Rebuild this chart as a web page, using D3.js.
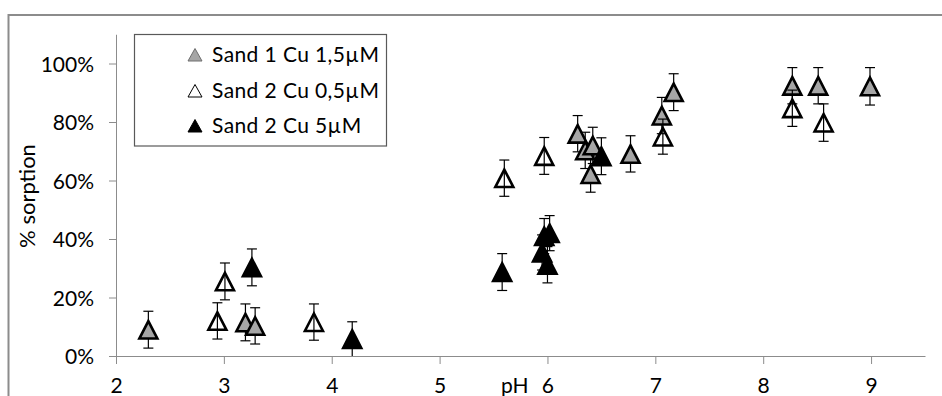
<!DOCTYPE html>
<html>
<head>
<meta charset="UTF-8">
<title>% sorption vs pH</title>
<style>
  body { margin: 0; background: #fff; }
  text { font-family: Lato, "Open Sans", sans-serif; fill: #000; }
</style>
</head>
<body>
<svg width="942" height="396"></svg>
<script src="https://cdn.jsdelivr.net/npm/d3@7/dist/d3.min.js"></script>
<script>
// series names (legend)
var seriesNames = ["Sand 1 Cu 1,5\u00b5M", "Sand 2 Cu 0,5\u00b5M", "Sand 2 Cu 5\u00b5M"];

// Sand 1 Cu 1,5µM  (grey triangles)
var s1pH   = [2.30, 3.20, 3.29, 6.28, 6.35, 6.42, 6.40, 6.77, 7.06, 7.17, 8.27, 8.51, 8.99];
var s1Sorp = [9.0, 11.5, 10.3, 76.0, 70.3, 72.0, 62.2, 69.1, 82.2, 90.2, 92.4, 92.4, 92.2];
var s1Err  = [6.3, 6.3, 6.2, 6.2, 6.2, 6.2, 6.2, 6.2, 6.2, 6.3, 6.2, 6.2, 6.4];

// Sand 2 Cu 0,5µM  (open triangles)
var s2pH   = [2.94, 3.01, 3.835, 5.60, 5.97, 7.07, 8.27, 8.56];
var s2Sorp = [12.0, 25.5, 11.6, 60.8, 68.4, 75.0, 84.7, 79.8];
var s2Err  = [6.2, 6.3, 6.2, 6.2, 6.3, 6.0, 6.2, 6.4];

// Sand 2 Cu 5µM  (black triangles)
var s3pH   = [3.26, 4.19, 5.58, 5.95, 5.97, 6.02, 6.00, 6.50];
var s3Sorp = [30.3, 5.8, 28.7, 35.4, 41.0, 42.0, 31.2, 68.3];
var s3Err  = [6.3, 5.9, 6.3, 6.0, 6.0, 6.0, 6.2, 6.3];

var xTicks = [2, 3, 4, 5, 6, 7, 8, 9];
var yTicks = [0, 20, 40, 60, 80, 100];

var svg = d3.select("svg");

// chart area border (cropped excel frame)
svg.append("path")
   .attr("d", "M8.5,400 L8.5,15 L950,15")
   .attr("fill", "none")
   .attr("stroke", "#8c8c8c")
   .attr("stroke-width", 2);

var x = d3.scaleLinear().domain([2, 9.5]).range([116, 925]);
var y = d3.scaleLinear().domain([0, 110]).range([356, 34.25]);

// axes
var xAxis = svg.append("g")
   .attr("transform", "translate(0," + y(0) + ")")
   .call(d3.axisBottom(x).tickValues(xTicks).tickSize(8).tickSizeOuter(0).tickPadding(14));
var yAxis = svg.append("g")
   .attr("transform", "translate(" + x(2) + ",0)")
   .call(d3.axisLeft(y).tickValues(yTicks).tickSize(7).tickSizeOuter(0).tickPadding(15)
         .tickFormat(function(d){ return d + "%"; }));

[xAxis, yAxis].forEach(function(a){
  a.select(".domain").attr("stroke", "#8c8c8c");
  a.selectAll(".tick line").attr("stroke", "#8c8c8c");
  a.selectAll(".tick text").attr("font-size", 21).attr("font-family", "Lato").attr("fill", "#000");
});
yAxis.selectAll(".tick text").attr("dy", "0.36em");
xAxis.selectAll(".tick text").attr("dy", "0.72em");

// axis titles
svg.append("text")
   .attr("x", x(6) - 19).attr("y", 393)
   .attr("text-anchor", "end")
   .attr("font-size", 21)
   .text("pH");

svg.append("text")
   .attr("transform", "translate(35,196) rotate(-90)")
   .attr("text-anchor", "middle")
   .attr("font-size", 22)
   .text("% sorption");

// markers
var tri = "M0,-8.6 L9,8.9 L-9,8.9 Z";

var series = [
  { pH: s1pH, v: s1Sorp, e: s1Err, fill: "#a6a6a6" },
  { pH: s2pH, v: s2Sorp, e: s2Err, fill: "none" },
  { pH: s3pH, v: s3Sorp, e: s3Err, fill: "#000" }
];

var plot = svg.append("g");

series.forEach(function(s){
  var pts = s.pH.map(function(p, i){ return { x: p, y: s.v[i], e: s.e[i] }; });
  var g = plot.append("g");
  var eb = g.selectAll(".eb").data(pts).enter().append("g")
     .attr("stroke", "#000").attr("stroke-width", 1.2);
  eb.append("line")
     .attr("x1", function(d){ return x(d.x); }).attr("x2", function(d){ return x(d.x); })
     .attr("y1", function(d){ return y(d.y + d.e); })
     .attr("y2", function(d){ return Math.min(y(0), y(d.y - d.e)); });
  eb.append("line")
     .attr("x1", function(d){ return x(d.x) - 5; }).attr("x2", function(d){ return x(d.x) + 5; })
     .attr("y1", function(d){ return y(d.y + d.e); }).attr("y2", function(d){ return y(d.y + d.e); });
  eb.filter(function(d){ return d.y - d.e > 0; }).append("line")
     .attr("x1", function(d){ return x(d.x) - 5; }).attr("x2", function(d){ return x(d.x) + 5; })
     .attr("y1", function(d){ return y(d.y - d.e); }).attr("y2", function(d){ return y(d.y - d.e); });

  g.selectAll(".m").data(pts).enter().append("path")
     .attr("d", tri)
     .attr("transform", function(d){ return "translate(" + x(d.x) + "," + y(d.y) + ")"; })
     .attr("fill", s.fill)
     .attr("stroke", "#000")
     .attr("stroke-width", 2.6)
     .attr("stroke-linejoin", "miter");
});

// legend
var leg = svg.append("g");
leg.append("rect")
   .attr("x", 134.5).attr("y", 34.5).attr("width", 252).attr("height", 111.5)
   .attr("fill", "#fff").attr("stroke", "#595959").attr("stroke-width", 1.2);

var legFill = ["#a6a6a6", "#fff", "#000"];
var legStroke = ["#6e6e6e", "#000", "#000"];
var legY = [55, 91, 126];
seriesNames.forEach(function(name, i){
  leg.append("path")
     .attr("d", "M0,-6.5 L7,6 L-7,6 Z")
     .attr("transform", "translate(195," + legY[i] + ")")
     .attr("fill", legFill[i]).attr("stroke", legStroke[i]).attr("stroke-width", 1);
  leg.append("text")
     .attr("x", 212).attr("y", legY[i] + 7)
     .attr("font-size", 21)
     .attr("letter-spacing", 0.4)
     .text(name);
});
</script>
</body>
</html>
